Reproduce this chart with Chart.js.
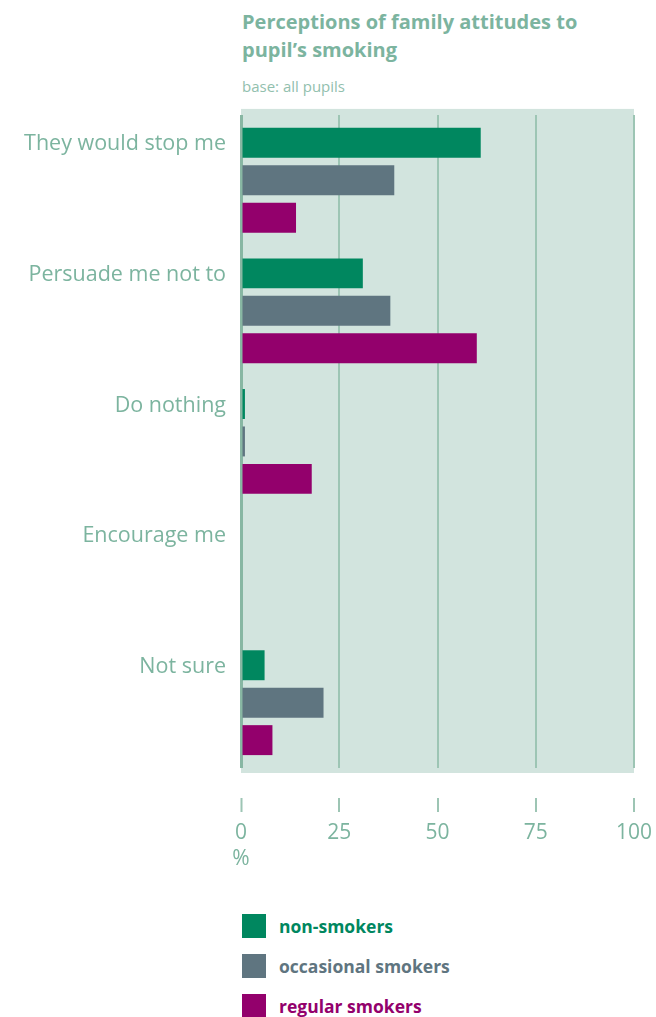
<!DOCTYPE html>
<html>
<head>
<meta charset="utf-8">
<script src="https://cdn.jsdelivr.net/npm/chart.js@4/dist/chart.umd.min.js"></script>
<style>
  body { margin: 0; background: #fff; font-family: 'Open Sans', sans-serif; }
  #wrap { position: relative; width: 656px; height: 1017px; }
  #title { position: absolute; left: 242px; top: 8px; color: #7cb49f; font-weight: bold; font-size: 20px; line-height: 28px; }
  #sub { position: absolute; left: 242px; top: 76px; color: #92c0ae; font-size: 15px; }
  #chartBox { position: absolute; left: 0; top: 95px; width: 656px; height: 785px; }
  #legend { position: absolute; left: 242px; top: 906px; }
  .item { display: flex; align-items: center; height: 40px; }
  .sw { width: 24px; height: 24px; margin-right: 13px; }
  .lbl { font-weight: bold; font-size: 17.5px; }
</style>
</head>
<body>
<div id="wrap">
  <div id="title">Perceptions of family attitudes to<br>pupil’s smoking</div>
  <div id="sub">base: all pupils</div>
  <div id="chartBox"><canvas id="chart"></canvas></div>
  <div id="legend"></div>
</div>
<script>
const categories = ['They would stop me', 'Persuade me not to', 'Do nothing', 'Encourage me', 'Not sure'];
const seriesNames = ['non-smokers', 'occasional smokers', 'regular smokers'];
const nonSmokers = [61, 31, 1, 0, 6];
const occasionalSmokers = [39, 38, 1, 0, 21];
const regularSmokers = [14, 60, 18, 0, 8];
const seriesColors = ['#00875f', '#5f7580', '#93006c'];
const xTicks = [0, 25, 50, 75, 100];

const textColor = '#7cb49f';

const plotBg = {
    id: 'plotBg',
    beforeDraw(chart) {
        const { ctx, chartArea } = chart;
        ctx.save();
        ctx.fillStyle = '#d2e4de';
        ctx.fillRect(chartArea.left, chartArea.top - 6, chartArea.right - chartArea.left, chartArea.bottom - chartArea.top + 11);
        ctx.restore();
    }
};

const ctx = document.getElementById('chart').getContext('2d');
new Chart(ctx, {
    type: 'bar',
    data: {
        labels: categories,
        datasets: [nonSmokers, occasionalSmokers, regularSmokers].map((vals, i) => ({
            label: seriesNames[i],
            data: vals,
            backgroundColor: seriesColors[i],
            borderWidth: 0,
            categoryPercentage: 0.86,
            barPercentage: 0.8,
        })),
    },
    options: {
        indexAxis: 'y',
        responsive: true,
        maintainAspectRatio: false,
        animation: false,
        layout: { padding: { top: 0, right: 22, bottom: 0, left: 0 } },
        plugins: {
            legend: { display: false },
            tooltip: { enabled: false },
        },
        scales: {
            x: {
                min: 0,
                max: 100,
                afterBuildTicks: (scale) => { scale.ticks = xTicks.map(v => ({ value: v })); },
                afterFit: (scale) => {
                    scale.height = 112;
                    scale.paddingLeft = 0;
                    scale.paddingRight = 0;
                },
                border: { display: false },
                grid: {
                    color: (c) => c.tick && c.tick.value === 0 ? '#88b7a3' : '#9dc5b4',
                    lineWidth: (c) => c.tick && c.tick.value === 0 ? 3 : 2,
                    tickLength: 44,
                    tickColor: '#9dc5b4',
                    tickWidth: 2,
                    tickBorderDash: [14, 30],
                    tickBorderDashOffset: 14,
                },
                ticks: {
                    color: textColor,
                    padding: 8,
                    maxRotation: 0,
                    font: { family: 'Open Sans', size: 21, lineHeight: 1.25 },
                    callback: (v) => v === 0 ? ['0', '%'] : String(v),
                },
            },
            y: {
                afterFit: (scale) => { scale.width = 241; },
                border: { display: false },
                grid: { display: false },
                ticks: {
                    color: textColor,
                    padding: 7,
                    labelOffset: -36,
                    font: { family: 'Open Sans', size: 21.5 },
                },
            },
        },
    },
    plugins: [plotBg],
});

const legend = document.getElementById('legend');
seriesNames.forEach((name, i) => {
    const row = document.createElement('div');
    row.className = 'item';
    row.innerHTML = '<div class="sw" style="background:' + seriesColors[i] + '"></div>' +
        '<span class="lbl" style="color:' + seriesColors[i] + '">' + name + '</span>';
    legend.appendChild(row);
});
</script>
</body>
</html>
